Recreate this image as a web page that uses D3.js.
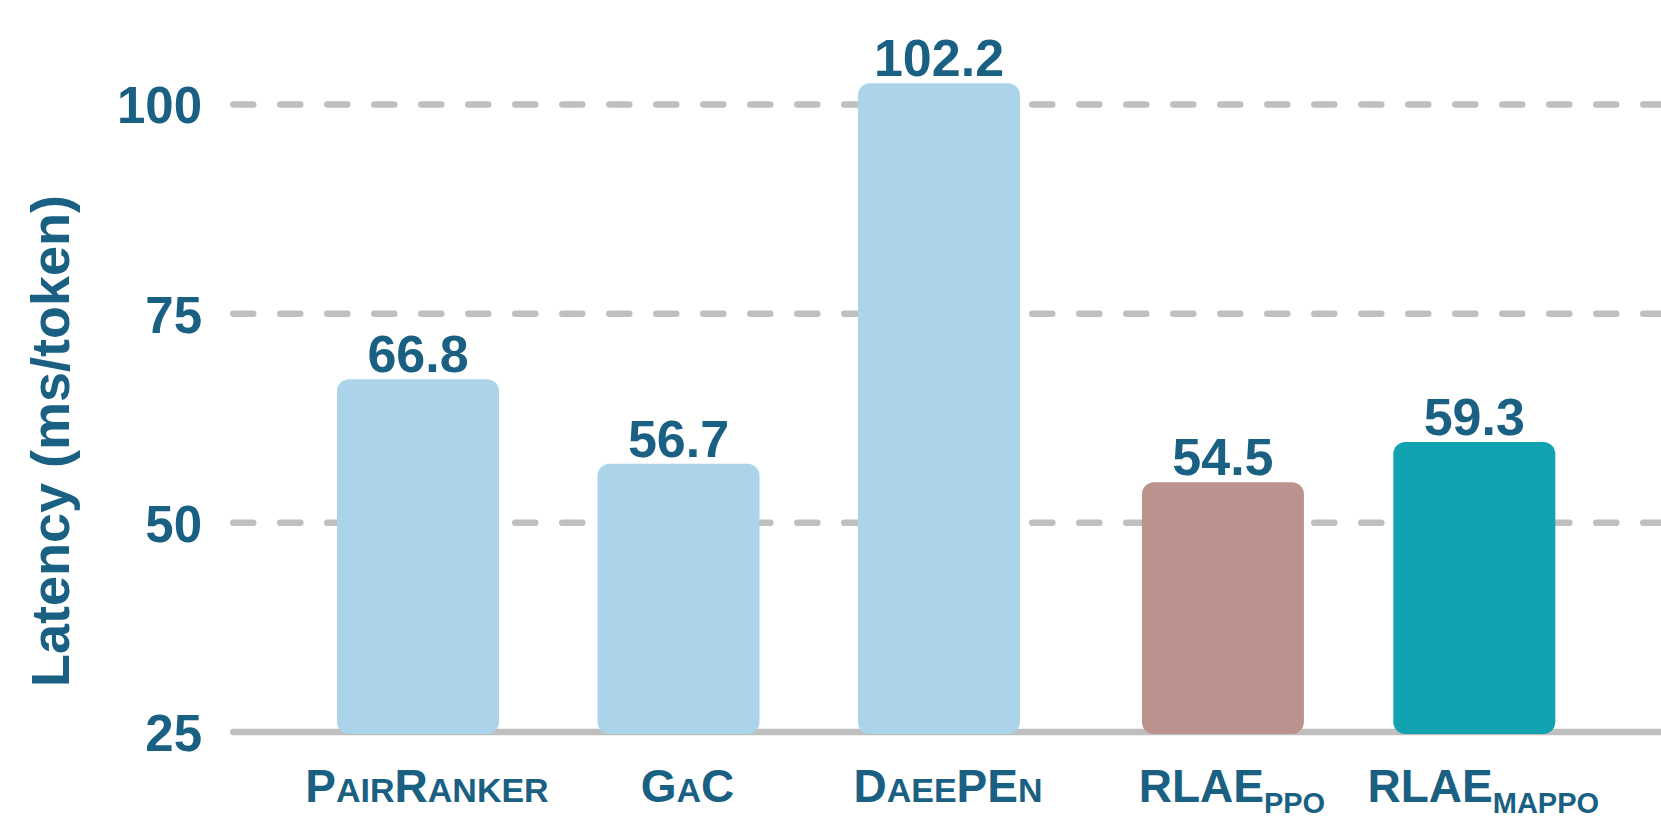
<!DOCTYPE html>
<html>
<head>
<meta charset="utf-8">
<script src="https://cdn.jsdelivr.net/npm/d3@7"></script>
<style>
  html, body { margin: 0; padding: 0; background: #fff; }
  svg { display: block; }
  text { font-family: "Liberation Sans", Arial, Helvetica, sans-serif; font-weight: bold; }
</style>
</head>
<body>
<svg id="chart" width="1661" height="838"></svg>
<script>
// ---- data ----
const categories = ["PairRanker", "GaC", "DaeePEn", "RLAE_PPO", "RLAE_MAPPO"];
const latency = [66.8, 56.7, 102.2, 54.5, 59.3];
const valueLabels = ["66.8", "56.7", "102.2", "54.5", "59.3"];
const yTicks = [25, 50, 75, 100];
const yTickLabels = ["25", "50", "75", "100"];
const yTitle = "Latency (ms/token)";

// ---- layout (not data) ----
const slots = [0, 1, 2, 3.09, 4.055];
const barColors = ["#ABD4EB", "#ABD4EB", "#ABD4EB", "#BC928F", "#12A3B2"];
const textColor = "#1A6083";
const gridColor = "#BFBFBF";

const svg = d3.select("#chart");

const y = d3.scaleLinear().domain([25, 100]).range([732, 104.6]);
const x = d3.scaleLinear().domain([0, 1]).range([418, 678.5]);
const barW = 162;

// gridlines
const gridG = svg.append("g");
yTicks.forEach((t, i) => {
  gridG.append("line")
    .attr("x1", 233.3).attr("x2", 1661)
    .attr("y1", y(t)).attr("y2", y(t))
    .attr("stroke", gridColor)
    .attr("stroke-width", 6.5)
    .attr("stroke-linecap", "round")
    .attr("stroke-dasharray", i === 0 ? null : "20 27");
});

// y axis tick labels via d3 axis
const yAxis = d3.axisLeft(y).tickValues(yTicks).tickFormat((d, i) => yTickLabels[i]).tickSize(0).tickPadding(0);
const yAxisG = svg.append("g").attr("transform", "translate(202,0)").call(yAxis);
yAxisG.select(".domain").remove();
yAxisG.selectAll("text")
  .attr("fill", textColor)
  .attr("font-size", 51)
  .attr("font-weight", "bold")
  .attr("font-family", "'Liberation Sans', Arial, sans-serif")
  .attr("dy", "0.36em");

// bars
const pad = 3;
svg.append("g").selectAll("rect")
  .data(latency)
  .join("rect")
  .attr("x", (d, i) => x(slots[i]) - barW / 2)
  .attr("width", barW)
  .attr("y", d => y(d) - pad)
  .attr("height", d => y(25) - y(d) + pad + 2)
  .attr("rx", 12).attr("ry", 12)
  .attr("fill", (d, i) => barColors[i]);

// value labels
svg.append("g").selectAll("text")
  .data(latency)
  .join("text")
  .attr("x", (d, i) => x(slots[i]))
  .attr("y", d => y(d) - 10)
  .attr("text-anchor", "middle")
  .attr("font-size", 52)
  .attr("fill", textColor)
  .text((d, i) => valueLabels[i]);

// x category labels (small caps / subscripts)
const bigSize = 46, smallSize = 34, subSize = 29;
const xLab = svg.append("g");
categories.forEach((name, i) => {
  const t = xLab.append("text")
    .attr("x", x(slots[i]) + 9)
    .attr("y", 802)
    .attr("text-anchor", "middle")
    .attr("fill", textColor);
  const [main, sub] = name.split("_");
  // group runs of upper / lower case
  const runs = [];
  for (const ch of main) {
    const low = ch !== ch.toUpperCase();
    if (runs.length && runs[runs.length - 1].low === low) runs[runs.length - 1].s += ch;
    else runs.push({ low, s: ch });
  }
  runs.forEach(r => {
    t.append("tspan")
      .attr("font-size", r.low ? smallSize : bigSize)
      .text(r.s.toUpperCase());
  });
  if (sub) {
    t.append("tspan").attr("font-size", subSize).attr("dy", 11).text(sub);
  }
});

// y title
svg.append("text")
  .attr("transform", "translate(69,441) rotate(-90)")
  .attr("text-anchor", "middle")
  .attr("font-size", 54)
  .attr("fill", textColor)
  .text(yTitle);
</script>
</body>
</html>
